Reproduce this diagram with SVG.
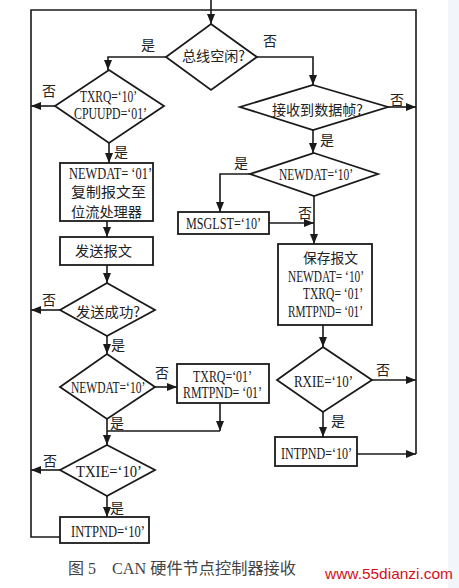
<svg xmlns="http://www.w3.org/2000/svg" width="459" height="588" viewBox="0 0 459 588">
<defs>
<style>
.shape{fill:#fff;stroke:#1a1a1a;stroke-width:1.8}
.ln{fill:none;stroke:#1a1a1a;stroke-width:1.6}
.t{font-family:"Liberation Serif","Noto Sans CJK SC",serif;font-size:16px;fill:#1a1a1a}
.c{font-family:"Noto Sans CJK SC","Liberation Serif",sans-serif;font-size:14px;fill:#222}
.lb{font-family:"Noto Sans CJK SC",sans-serif;font-size:14px;fill:#222;text-anchor:middle}
.cap{font-family:"Liberation Serif","Noto Sans CJK SC",serif;font-size:16px;fill:#444}
</style>
<marker id="ah" viewBox="0 0 10 8" refX="10" refY="4" markerWidth="10" markerHeight="8" markerUnits="userSpaceOnUse" orient="auto">
<path d="M0,0 L10,4 L0,8 Z" fill="#1a1a1a"/>
</marker>
</defs>
<rect x="0" y="0" width="459" height="588" fill="#fff"/>
<rect x="448" y="0" width="11" height="588" fill="#f2f6fa"/>

<g id="connectors">
<path class="ln" d="M60,537 H31 V10 H416 V454"/>
<path class="ln" d="M211,0 V24" marker-end="url(#ah)"/>
<path class="ln" d="M166,57 H108 V70" marker-end="url(#ah)"/>
<path class="ln" d="M257,57 H313 V85" marker-end="url(#ah)"/>
<path class="ln" d="M55,106 H31" marker-end="url(#ah)"/>
<path class="ln" d="M109,143 V163" marker-end="url(#ah)"/>
<path class="ln" d="M107,221 V237" marker-end="url(#ah)"/>
<path class="ln" d="M107,265 V283" marker-end="url(#ah)"/>
<path class="ln" d="M60,310 H31" marker-end="url(#ah)"/>
<path class="ln" d="M107,336 V354" marker-end="url(#ah)"/>
<path class="ln" d="M155,387 H177" marker-end="url(#ah)"/>
<path class="ln" d="M107,419 V445" marker-end="url(#ah)"/>
<path class="ln" d="M220,403 V431" marker-end="url(#ah)"/>
<path class="ln" d="M220,431 H107"/>
<path class="ln" d="M60,470 H31" marker-end="url(#ah)"/>
<path class="ln" d="M107,496 V517" marker-end="url(#ah)"/>
<path class="ln" d="M388,107 H416" marker-end="url(#ah)"/>
<path class="ln" d="M313,130 V153" marker-end="url(#ah)"/>
<path class="ln" d="M250,174 H220 V212" marker-end="url(#ah)"/>
<path class="ln" d="M314,196 V244" marker-end="url(#ah)"/>
<path class="ln" d="M269,223 H314" marker-end="url(#ah)"/>
<path class="ln" d="M323,325 V347" marker-end="url(#ah)"/>
<path class="ln" d="M372,380 H416" marker-end="url(#ah)"/>
<path class="ln" d="M323,412 V437" marker-end="url(#ah)"/>
<path class="ln" d="M357,454 H416" marker-end="url(#ah)"/>
<text class="lb" x="148" y="50">是</text>
<text class="lb" x="270" y="46">否</text>
<text class="lb" x="49" y="96">否</text>
<text class="lb" x="121" y="157">是</text>
<text class="lb" x="397" y="105">否</text>
<text class="lb" x="327" y="145">是</text>
<text class="lb" x="241" y="168">是</text>
<text class="lb" x="305" y="218">否</text>
<text class="lb" x="49" y="305">否</text>
<text class="lb" x="118" y="350">是</text>
<text class="lb" x="162" y="378">否</text>
<text class="lb" x="117" y="428">是</text>
<text class="lb" x="50" y="466">否</text>
<text class="lb" x="117" y="513">是</text>
<text class="lb" x="383" y="375">否</text>
<text class="lb" x="338" y="426">是</text>
</g>

<g id="bus-idle">
<polygon class="shape" points="211,24 257,57 211,90 166,57"/>
<text class="c" x="182" y="61" textLength="63" lengthAdjust="spacingAndGlyphs">总线空闲?</text>
</g>
<g id="txrq-check">
<polygon class="shape" points="109,70 164,106 109,143 55,106"/>
<text class="t" x="80" y="102" textLength="57" lengthAdjust="spacingAndGlyphs">TXRQ=‘10’</text>
<text class="t" x="74" y="119" textLength="73" lengthAdjust="spacingAndGlyphs">CPUUPD=‘01’</text>
</g>
<g id="copy-msg">
<rect class="shape" x="60" y="163" width="93" height="58"/>
<text class="t" x="69" y="179" textLength="83" lengthAdjust="spacingAndGlyphs">NEWDAT= ‘01’</text>
<text class="c" x="71" y="197" textLength="75" lengthAdjust="spacingAndGlyphs">复制报文至</text>
<text class="c" x="71" y="217" textLength="71" lengthAdjust="spacingAndGlyphs">位流处理器</text>
</g>
<g id="send-msg">
<rect class="shape" x="60" y="237" width="93" height="28"/>
<text class="c" x="75" y="256" textLength="57" lengthAdjust="spacingAndGlyphs">发送报文</text>
</g>
<g id="send-ok">
<polygon class="shape" points="107,283 155,310 107,336 60,310"/>
<text class="c" x="76" y="317" textLength="64" lengthAdjust="spacingAndGlyphs">发送成功?</text>
</g>
<g id="newdat-left">
<polygon class="shape" points="107,354 155,387 107,419 60,387"/>
<text class="t" transform="translate(71,393) scale(0.72,1)" x="0" y="0">NEWDAT=‘10’</text>
</g>
<g id="txrq-set">
<rect class="shape" x="177" y="364" width="92" height="39"/>
<text class="t" x="193" y="382" textLength="59" lengthAdjust="spacingAndGlyphs">TXRQ=‘01’</text>
<text class="t" x="183" y="398" textLength="79" lengthAdjust="spacingAndGlyphs">RMTPND= ‘01’</text>
</g>
<g id="txie-check">
<polygon class="shape" points="107,445 155,470 107,496 60,470"/>
<text class="t" x="76" y="477" textLength="66" lengthAdjust="spacingAndGlyphs">TXIE=‘10’</text>
</g>
<g id="intpnd-left">
<rect class="shape" x="60" y="517" width="89" height="26"/>
<text class="t" x="71" y="537" textLength="74" lengthAdjust="spacingAndGlyphs">INTPND=‘10’</text>
</g>
<g id="recv-frame">
<polygon class="shape" points="313,85 388,107 313,130 240,107"/>
<text class="c" x="272" y="115" textLength="91" lengthAdjust="spacingAndGlyphs">接收到数据帧?</text>
</g>
<g id="newdat-right">
<polygon class="shape" points="314,153 378,174 314,196 250,174"/>
<text class="t" x="279" y="180" textLength="74" lengthAdjust="spacingAndGlyphs">NEWDAT=‘10’</text>
</g>
<g id="msglst">
<rect class="shape" x="178" y="212" width="91" height="22"/>
<text class="t" x="186" y="229" textLength="75" lengthAdjust="spacingAndGlyphs">MSGLST=‘10’</text>
</g>
<g id="save-msg">
<rect class="shape" x="278" y="244" width="94" height="81"/>
<text class="c" x="303" y="263" textLength="55" lengthAdjust="spacingAndGlyphs">保存报文</text>
<text class="t" x="288" y="282" textLength="76" lengthAdjust="spacingAndGlyphs">NEWDAT= ‘10’</text>
<text class="t" x="303" y="299" textLength="60" lengthAdjust="spacingAndGlyphs">TXRQ= ‘01’</text>
<text class="t" x="288" y="317" textLength="75" lengthAdjust="spacingAndGlyphs">RMTPND= ‘01’</text>
</g>
<g id="rxie-check">
<polygon class="shape" points="323,347 372,380 323,412 277,380"/>
<text class="t" x="294" y="387" textLength="59" lengthAdjust="spacingAndGlyphs">RXIE=‘10’</text>
</g>
<g id="intpnd-right">
<rect class="shape" x="275" y="437" width="82" height="29"/>
<text class="t" x="281" y="459" textLength="71" lengthAdjust="spacingAndGlyphs">INTPND=‘10’</text>
</g>

<g id="caption">
<text class="cap" x="68" y="574">图 5</text>
<text class="cap" x="112" y="574" textLength="184" lengthAdjust="spacingAndGlyphs">CAN 硬件节点控制器接收</text>
<text x="325" y="579" font-family="Liberation Sans, Arial, sans-serif" font-size="15" fill="#d4101a" textLength="128" lengthAdjust="spacingAndGlyphs">www.55dianzi.com</text>
</g>
</svg>
